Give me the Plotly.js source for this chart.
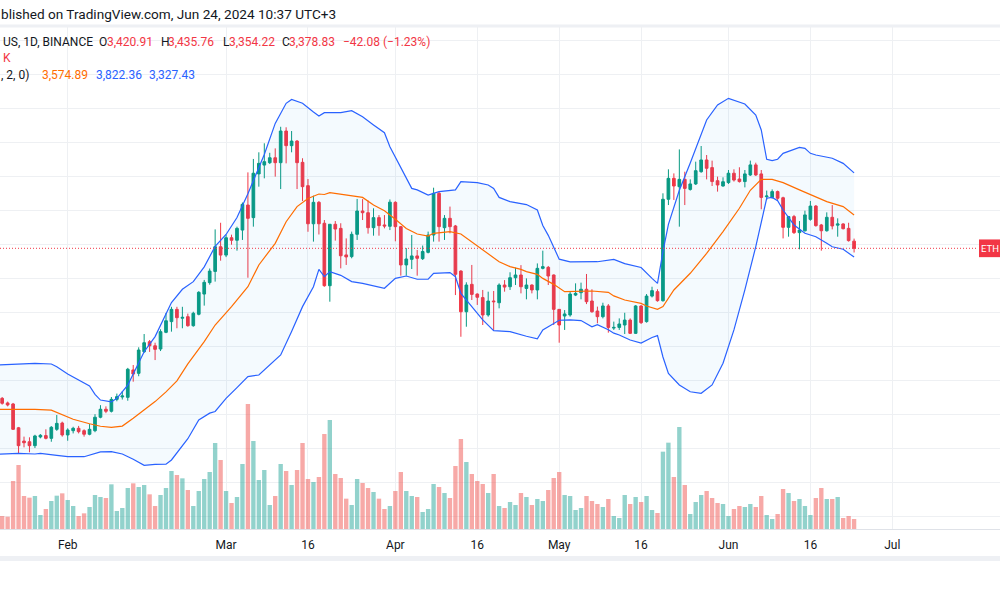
<!DOCTYPE html>
<html><head><meta charset="utf-8">
<script src="https://cdn.plot.ly/plotly-3.0.1.min.js"></script>
<style>html,body{margin:0;padding:0;background:#fff;}#chart{width:1000px;height:592px;}</style>
</head><body><div id="chart"></div>
<script>
const dates = [
'2024-01-20','2024-01-21','2024-01-22','2024-01-23','2024-01-24','2024-01-25','2024-01-26','2024-01-27','2024-01-28','2024-01-29','2024-01-30','2024-01-31',
'2024-02-01','2024-02-02','2024-02-03','2024-02-04','2024-02-05','2024-02-06','2024-02-07','2024-02-08','2024-02-09','2024-02-10','2024-02-11','2024-02-12','2024-02-13','2024-02-14','2024-02-15','2024-02-16','2024-02-17','2024-02-18','2024-02-19','2024-02-20','2024-02-21','2024-02-22','2024-02-23','2024-02-24','2024-02-25','2024-02-26','2024-02-27','2024-02-28','2024-02-29',
'2024-03-01','2024-03-02','2024-03-03','2024-03-04','2024-03-05','2024-03-06','2024-03-07','2024-03-08','2024-03-09','2024-03-10','2024-03-11','2024-03-12','2024-03-13','2024-03-14','2024-03-15','2024-03-16','2024-03-17','2024-03-18','2024-03-19','2024-03-20','2024-03-21','2024-03-22','2024-03-23','2024-03-24','2024-03-25','2024-03-26','2024-03-27','2024-03-28','2024-03-29','2024-03-30','2024-03-31',
'2024-04-01','2024-04-02','2024-04-03','2024-04-04','2024-04-05','2024-04-06','2024-04-07','2024-04-08','2024-04-09','2024-04-10','2024-04-11','2024-04-12','2024-04-13','2024-04-14','2024-04-15','2024-04-16','2024-04-17','2024-04-18','2024-04-19','2024-04-20','2024-04-21','2024-04-22','2024-04-23','2024-04-24','2024-04-25','2024-04-26','2024-04-27','2024-04-28','2024-04-29','2024-04-30',
'2024-05-01','2024-05-02','2024-05-03','2024-05-04','2024-05-05','2024-05-06','2024-05-07','2024-05-08','2024-05-09','2024-05-10','2024-05-11','2024-05-12','2024-05-13','2024-05-14','2024-05-15','2024-05-16','2024-05-17','2024-05-18','2024-05-19','2024-05-20','2024-05-21','2024-05-22','2024-05-23','2024-05-24','2024-05-25','2024-05-26','2024-05-27','2024-05-28','2024-05-29','2024-05-30','2024-05-31',
'2024-06-01','2024-06-02','2024-06-03','2024-06-04','2024-06-05','2024-06-06','2024-06-07','2024-06-08','2024-06-09','2024-06-10','2024-06-11','2024-06-12','2024-06-13','2024-06-14','2024-06-15','2024-06-16','2024-06-17','2024-06-18','2024-06-19','2024-06-20','2024-06-21','2024-06-22','2024-06-23','2024-06-24'];

const open = [
2497,2470,2464,2324,2246,2242,2219,2270,2278,2262,2315,2352,
2282,2307,2321,2307,2286,2307,2386,2433,2421,2491,2505,2503,2664,2644,2771,2830,2806,2787,2885,2948,3020,2968,2977,2924,2991,3110,3177,3243,3388,
3339,3441,3426,3486,3633,3559,3816,3868,3882,3911,3882,4068,3982,4009,3884,3747,3523,3649,3526,3159,3520,3496,3340,3330,3461,3598,3588,3500,3559,3516,3508,
3649,3506,3281,3314,3334,3318,3355,3457,3702,3500,3555,3510,3245,3006,3167,3110,3089,2987,3069,3059,3163,3153,3206,3222,3143,3163,3134,3261,3267,3222,
3020,2981,2987,3104,3118,3138,3069,3010,2977,3040,2910,2914,2928,2957,2879,3040,2948,3098,3124,3071,3667,3790,3741,3784,3725,3757,3829,3898,3853,3776,3745,
3765,3820,3786,3771,3810,3869,3816,3682,3678,3712,3676,3502,3565,3471,3482,3549,3627,3516,3482,3561,3515,3522,3496,3420.91];

const high = [
2505,2478,2470,2329,2272,2268,2283,2287,2315,2334,2399,2360,
2321,2330,2335,2315,2346,2404,2457,2450,2505,2525,2540,2676,2693,2797,2875,2840,2824,2903,2999,3035,3035,3035,2995,3006,3127,3193,3260,3490,3529,
3459,3459,3506,3648,3825,3904,3943,3996,3940,3966,4093,4090,4068,4015,3908,3786,3688,3657,3545,3520,3539,3526,3437,3477,3669,3668,3660,3614,3574,3574,3666,
3655,3510,3380,3457,3369,3395,3477,3735,3712,3574,3624,3516,3250,3179,3281,3114,3134,3124,3128,3173,3192,3238,3265,3280,3202,3167,3290,3365,3275,3225,
3022,3016,3124,3173,3177,3228,3138,3036,3059,3051,2948,2967,3000,2967,3045,3045,3110,3153,3138,3702,3843,3819,3960,3829,3784,3888,3980,3927,3894,3800,3796,
3839,3843,3855,3839,3894,3882,3839,3718,3725,3718,3682,3569,3575,3539,3600,3657,3633,3522,3590,3633,3555,3526,3529,3435.76];

const low = [
2460,2450,2311,2174,2209,2180,2205,2262,2256,2242,2306,2272,
2248,2291,2291,2272,2280,2298,2380,2410,2414,2480,2490,2483,2595,2627,2764,2770,2722,2775,2880,2889,2909,2909,2918,2918,2985,3042,3165,3183,3306,
3327,3400,3365,3428,3206,3506,3741,3790,3874,3800,3727,3878,3943,3727,3657,3476,3418,3460,3153,3065,3424,3261,3281,3320,3428,3545,3465,3453,3453,3496,3486,
3420,3218,3218,3257,3218,3310,3349,3418,3418,3428,3467,3104,2859,2918,3075,3046,2928,2977,2899,3026,3124,3134,3163,3114,3079,3114,3079,3255,3163,2928,
2824,2899,2977,3098,3079,3051,3000,2938,2967,2883,2899,2899,2875,2875,2875,2934,2942,3090,3065,3065,3633,3663,3506,3633,3718,3751,3823,3784,3745,3712,3741,
3757,3771,3765,3737,3804,3804,3608,3663,3671,3663,3437,3447,3463,3373,3477,3541,3506,3365,3477,3490,3447,3490,3418,3354.22];

const close = [
2468,2458,2315,2219,2236,2219,2276,2280,2262,2327,2350,2282,
2311,2321,2301,2286,2315,2386,2433,2421,2491,2507,2511,2668,2640,2781,2824,2806,2785,2889,2953,3020,2971,2973,2924,2997,3120,3179,3245,3388,3339,
3441,3426,3496,3637,3555,3820,3878,3888,3911,3882,4068,3982,4009,3882,3741,3523,3649,3523,3159,3520,3492,3335,3328,3461,3598,3588,3500,3559,3512,3510,3650,
3506,3281,3316,3334,3320,3360,3457,3702,3506,3555,3506,3226,3006,3163,3108,3091,2987,3069,3065,3163,3151,3206,3222,3153,3163,3134,3261,3271,3216,3020,
2928,2993,3110,3114,3138,3065,3006,2977,3040,2914,2914,2934,2957,2879,3040,2942,3098,3130,3071,3667,3790,3745,3784,3731,3757,3835,3898,3849,3771,3751,3770,
3820,3780,3771,3816,3869,3810,3678,3686,3712,3673,3502,3565,3471,3486,3575,3627,3512,3482,3561,3510,3522,3494,3424,3378.83];

const volume = [
117,111,432,576,297,282,297,126,180,252,300,321,
261,207,117,141,198,306,288,279,402,162,189,369,411,378,396,312,207,306,369,522,486,456,351,207,342,450,513,774,621,
342,234,288,585,1125,792,441,531,216,297,585,522,396,531,774,450,423,468,855,981,495,459,273,216,450,414,369,333,273,180,207,
342,513,342,297,288,153,180,405,378,324,279,567,810,603,495,432,405,324,495,207,189,243,216,324,288,216,270,252,351,459,
513,306,297,171,189,297,252,225,198,270,117,99,306,225,288,243,297,171,144,696,777,468,918,396,135,243,306,342,279,234,225,
117,180,207,198,225,198,297,126,90,135,360,324,252,270,207,126,279,369,270,270,288,99,117,90];

const bbUpperDates = ['2024-01-19','2024-01-23','2024-01-26','2024-01-29','2024-01-30','2024-02-01','2024-02-03','2024-02-05','2024-02-06','2024-02-07','2024-02-09','2024-02-10','2024-02-12','2024-02-14','2024-02-15','2024-02-17','2024-02-19','2024-02-20','2024-02-22','2024-02-24','2024-02-26','2024-02-28','2024-03-01','2024-03-03','2024-03-05','2024-03-07','2024-03-08','2024-03-10','2024-03-12','2024-03-13','2024-03-15','2024-03-17','2024-03-18','2024-03-19','2024-03-22','2024-03-24','2024-03-26','2024-03-28','2024-03-30','2024-03-31','2024-04-02','2024-04-04','2024-04-05','2024-04-07','2024-04-09','2024-04-12','2024-04-13','2024-04-16','2024-04-18','2024-04-19','2024-04-20','2024-04-22','2024-04-25','2024-04-27','2024-04-28','2024-04-29','2024-05-01','2024-05-03','2024-05-08','2024-05-11','2024-05-13','2024-05-16','2024-05-18','2024-05-19','2024-05-20','2024-05-21','2024-05-23','2024-05-25','2024-05-28','2024-05-30','2024-06-01','2024-06-04','2024-06-06','2024-06-07','2024-06-08','2024-06-09','2024-06-10','2024-06-11','2024-06-14','2024-06-15','2024-06-16','2024-06-17','2024-06-20','2024-06-22','2024-06-24'];
const bbUpper = [2693,2699,2703,2699,2683,2640,2605,2570,2520,2487,2476,2497,2575,2703,2771,2860,2990,3060,3138,3183,3270,3390,3460,3560,3700,3860,3930,4113,4231,4254,4231,4180,4156,4176,4176,4188,4152,4104,4058,3976,3849,3731,3722,3692,3712,3722,3770,3765,3751,3731,3678,3653,3636,3604,3513,3455,3315,3299,3300,3314,3289,3266,3202,3173,3360,3520,3720,3880,4133,4221,4260,4227,4162,4074,3902,3894,3902,3937,3972,3966,3937,3927,3908,3878,3822.36];

const bbBasisDates = ['2024-01-19','2024-01-23','2024-01-26','2024-01-29','2024-01-31','2024-02-02','2024-02-05','2024-02-07','2024-02-09','2024-02-11','2024-02-13','2024-02-15','2024-02-17','2024-02-19','2024-02-21','2024-02-23','2024-02-26','2024-02-28','2024-03-02','2024-03-05','2024-03-07','2024-03-10','2024-03-12','2024-03-14','2024-03-16','2024-03-18','2024-03-19','2024-03-20','2024-03-22','2024-03-24','2024-03-26','2024-03-28','2024-03-30','2024-04-01','2024-04-03','2024-04-05','2024-04-07','2024-04-08','2024-04-11','2024-04-13','2024-04-14','2024-04-16','2024-04-18','2024-04-20','2024-04-22','2024-04-24','2024-04-25','2024-04-27','2024-04-28','2024-04-30','2024-05-02','2024-05-04','2024-05-07','2024-05-10','2024-05-11','2024-05-13','2024-05-16','2024-05-17','2024-05-19','2024-05-20','2024-05-22','2024-05-25','2024-05-28','2024-05-31','2024-06-03','2024-06-05','2024-06-07','2024-06-09','2024-06-11','2024-06-14','2024-06-17','2024-06-19','2024-06-22','2024-06-24'];
const bbBasis = [2432,2434,2432,2428,2402,2374,2348,2333,2327,2334,2380,2430,2478,2535,2600,2700,2830,2928,3036,3153,3281,3408,3535,3624,3672,3698,3695,3706,3698,3686,3678,3633,3600,3550,3495,3463,3451,3467,3477,3463,3440,3392,3349,3300,3271,3255,3242,3226,3202,3167,3124,3124,3128,3120,3099,3075,3055,3040,3020,3036,3134,3232,3349,3477,3614,3720,3784,3784,3765,3722,3678,3653,3624,3574.89];

const bbLowerDates = ['2024-01-19','2024-01-23','2024-01-26','2024-01-27','2024-01-30','2024-02-01','2024-02-04','2024-02-06','2024-02-07','2024-02-09','2024-02-11','2024-02-13','2024-02-15','2024-02-17','2024-02-19','2024-02-20','2024-02-21','2024-02-23','2024-02-25','2024-02-27','2024-02-28','2024-03-01','2024-03-03','2024-03-05','2024-03-07','2024-03-08','2024-03-11','2024-03-13','2024-03-15','2024-03-17','2024-03-18','2024-03-19','2024-03-20','2024-03-22','2024-03-24','2024-03-26','2024-03-30','2024-04-01','2024-04-03','2024-04-05','2024-04-07','2024-04-08','2024-04-11','2024-04-12','2024-04-13','2024-04-15','2024-04-17','2024-04-19','2024-04-22','2024-04-25','2024-04-27','2024-04-28','2024-05-01','2024-05-03','2024-05-05','2024-05-07','2024-05-08','2024-05-10','2024-05-11','2024-05-12','2024-05-14','2024-05-16','2024-05-18','2024-05-19','2024-05-20','2024-05-21','2024-05-23','2024-05-25','2024-05-27','2024-05-29','2024-05-31','2024-06-02','2024-06-04','2024-06-06','2024-06-07','2024-06-08','2024-06-09','2024-06-10','2024-06-11','2024-06-13','2024-06-15','2024-06-17','2024-06-19','2024-06-20','2024-06-22','2024-06-24'];
const bbLower = [2168,2174,2170,2174,2162,2154,2154,2170,2182,2184,2170,2139,2103,2109,2110,2135,2175,2260,2370,2410,2420,2497,2560,2625,2634,2664,2752,2890,3036,3153,3255,3212,3242,3220,3183,3173,3144,3202,3216,3197,3197,3232,3236,3212,3114,3036,2958,2895,2889,2862,2847,2899,2956,2958,2954,2918,2930,2900,2880,2869,2840,2822,2855,2866,2740,2644,2576,2536,2527,2576,2703,2899,3134,3389,3526,3673,3678,3659,3604,3516,3467,3447,3408,3388,3373,3327.43];

const tickVals = ['2024-02-01','2024-03-01','2024-03-16','2024-04-01','2024-04-16','2024-05-01','2024-05-16','2024-06-01','2024-06-16','2024-07-01'];
const tickText = ['Feb','Mar','16','Apr','16','May','16','Jun','16','Jul'];

const UP = '#089981', DOWN = '#F23645';
const volColors = close.map((c, i) => c >= open[i] ? 'rgba(38,166,154,0.5)' : 'rgba(239,83,80,0.5)');
const lastClose = close[close.length - 1];

const FONT = 'Roboto, "Liberation Sans", Arial, sans-serif';
const TXT = '#131722';

const traces = [
  {type:'bar', x:dates, y:volume, marker:{color:volColors, line:{width:0}}, xaxis:'x', yaxis:'y', hoverinfo:'skip', showlegend:false},
  {type:'scatter', mode:'lines', x:bbLowerDates, y:bbLower, line:{color:'#2962FF', width:1.2}, yaxis:'y2', hoverinfo:'skip', showlegend:false},
  {type:'scatter', mode:'lines', x:bbUpperDates, y:bbUpper, line:{color:'#2962FF', width:1.2}, fill:'tonexty', fillcolor:'rgba(33,150,243,0.05)', yaxis:'y2', hoverinfo:'skip', showlegend:false},
  {type:'scatter', mode:'lines', x:bbBasisDates, y:bbBasis, line:{color:'#FF6D00', width:1.2}, yaxis:'y2', hoverinfo:'skip', showlegend:false},
  {type:'candlestick', x:dates, open:open, high:high, low:low, close:close, yaxis:'y2',
   increasing:{line:{color:UP, width:1}, fillcolor:UP},
   decreasing:{line:{color:DOWN, width:1}, fillcolor:DOWN},
   whiskerwidth:0, hoverinfo:'skip', showlegend:false}
];

function py(Y){ return (529 - Y) / 502; }
function ann(text, X, Y, color, size){
  return {xref:'paper', yref:'paper', x:X/1000, y:py(Y), xanchor:'left', yanchor:'middle',
    text:text, showarrow:false, font:{family:FONT, size:size||12, color:color||TXT}, borderpad:0};
}

const annotations = [
  ann('blished on TradingView.com, Jun 24, 2024 10:37 UTC+3', 0, 14, TXT, 13.6),
  ann('US, 1D, BINANCE', 2, 42),
  ann('O', 98, 42), ann('3,420.91', 106, 42, DOWN),
  ann('H', 160, 42), ann('3,435.76', 167, 42, DOWN),
  ann('L', 222, 42), ann('3,354.22', 228, 42, DOWN),
  ann('C', 281, 42), ann('3,378.83', 288, 42, DOWN),
  ann('\u221242.08 (\u22121.23%)', 342, 42, DOWN),
  ann('K', 2, 58, DOWN),
  ann(', 2, 0)', 0, 75),
  ann('3,574.89', 41, 75, '#FF6D00'),
  ann('3,822.36', 95, 75, '#2962FF'),
  ann('3,327.43', 148, 75, '#2962FF'),
  {xref:'paper', yref:'y2', x:0.9795, y:lastClose, xanchor:'left', yanchor:'middle', text:'ETH', showarrow:false,
   borderpad:0, font:{family:FONT, size:9.5, color:'#ffffff'}}
];

const shapes = [
  {type:'line', xref:'paper', yref:'y2', x0:0, x1:0.977, y0:lastClose, y1:lastClose, line:{color:DOWN, width:1, dash:'1px,2px'}},
  {type:'rect', xref:'paper', yref:'y2', x0:0.979, x1:1.0, y0:lastClose - 52, y1:lastClose + 52, fillcolor:DOWN, line:{width:0}, layer:'above'},
  {type:'rect', xref:'paper', yref:'paper', x0:0, x1:1, y0:py(24.5), y1:py(27.5), fillcolor:'#eef0f4', line:{width:0}, layer:'below'},
  {type:'rect', xref:'paper', yref:'paper', x0:0, x1:1, y0:py(556), y1:py(561), fillcolor:'#eef0f4', line:{width:0}, layer:'below'}
];

const layout = {
  width:1000, height:592,
  margin:{l:0, r:0, t:27, b:63, pad:0},
  paper_bgcolor:'#ffffff', plot_bgcolor:'#ffffff',
  showlegend:false, bargap:0.2,
  font:{family:FONT, size:12, color:TXT},
  xaxis:{type:'date', range:['2024-01-19 14:28','2024-07-20 17:17'], tickvals:tickVals, ticktext:tickText,
    showgrid:true, gridcolor:'#eef0f3', gridwidth:1, showline:true, linecolor:'#dfe2e8', linewidth:1,
    ticks:'outside', ticklen:5, tickcolor:'rgba(0,0,0,0)', tickfont:{family:FONT, size:12, color:TXT},
    rangeslider:{visible:false}, zeroline:false, fixedrange:true},
  yaxis:{range:[0, 4518], showgrid:false, showticklabels:false, zeroline:false, showline:false, fixedrange:true},
  yaxis2:{overlaying:'y', side:'right', range:[1729.2, 4679.4], tick0:0, dtick:200, showgrid:true, gridcolor:'#eef0f3',
    gridwidth:1, showticklabels:false, ticks:'', zeroline:false, showline:false, fixedrange:true},
  annotations:annotations, shapes:shapes
};

Plotly.newPlot('chart', traces, layout, {staticPlot:true, displayModeBar:false});
</script>
</body></html>
